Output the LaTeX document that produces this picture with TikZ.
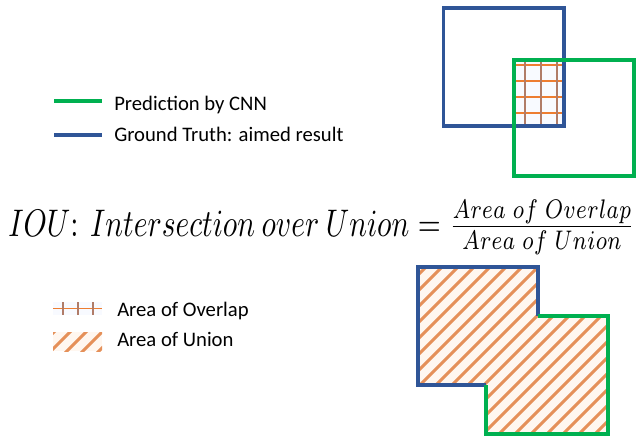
\documentclass[tikz,border=0pt]{standalone}
\usepackage{fontspec}
\usepackage{graphicx}
\setmainfont{Carlito}
\definecolor{cgreen}{RGB}{0,176,80}
\definecolor{cblue}{RGB}{47,85,151}
\definecolor{corange}{RGB}{237,125,49}
\definecolor{cbrown}{RGB}{176,124,104}
\definecolor{cpeach}{RGB}{255,247,240}
\definecolor{cpale}{RGB}{248,250,255}
\tikzset{
  boxblue/.style={draw=cblue, line width=3.3pt*0.75},
  boxgreen/.style={draw=cgreen, line width=3.3pt*0.75},
  legline/.style={line width=3.2pt*0.75},
  legtext/.style={anchor=base west, inner sep=0pt, font=\fontsize{15.5}{18}\selectfont},
  gridh/.style={draw=corange, line width=1.6pt*0.75},
  gridv/.style={draw=cbrown, line width=1.6pt*0.75},
  stripe/.style={draw=corange!80!cbrown!85!white, line width=3.0pt*0.75},
}
\begin{document}
\begin{tikzpicture}[x=0.75pt, y=-0.75pt]
\useasboundingbox (0,0) rectangle (639,437);

% ---------- top-right squares ----------
\fill[cpale] (514,60) rectangle (564,126);
\begin{scope}
  \clip (514,60) rectangle (564,126);
  \foreach \yy in {65,81,97,113} \draw[gridh] (510,\yy) -- (570,\yy);
  \foreach \xx in {525,541,557} \draw[gridv] (\xx,55) -- (\xx,130);
\end{scope}
\draw[boxblue] (443.5,8) rectangle (564,126);
\draw[boxgreen] (514,60) rectangle (634,176);

% ---------- legend 1 ----------
\coordinate (g1) at (54,101);
\coordinate (g2) at (102,101);
\coordinate (b1) at (54,135);
\coordinate (b2) at (102,135);
\draw[legline, cgreen] (g1) -- (g2);
\draw[legline, cblue] (b1) -- (b2);
\node[legtext] (tpred) at (114,110) {Prediction by CNN};
\node[legtext] (tgt) at (114,141.5) {Ground Truth: aimed result};

% ---------- formula ----------
\node[anchor=base west, inner sep=0pt] (formula) at (8,236)
  {\scalebox{1}[1.3]{\resizebox{470pt}{!}{$IOU\colon\ Intersection\ over\ Union=\frac{Area\ of\ Overlap}{Area\ of\ Union}$}}};

% ---------- legend 2 ----------
\fill[cpale] (53,302) rectangle (102,315);
\draw[gridh] (53,308.5) -- (102,308.5);
\foreach \xx in {63,78,93} \draw[gridv] (\xx,302) -- (\xx,315);
\node[legtext] (tov) at (117,316.5) {Area of Overlap};

\fill[cpeach] (53,332) rectangle (102,351);
\begin{scope}
  \clip (53,332) rectangle (102,351);
  \foreach \k in {370,386,...,470} \draw[stripe] (40,\k-40) -- (120,\k-120);
\end{scope}
\node[legtext] (tun) at (117,346.5) {Area of Union};

% ---------- union shape ----------
\fill[cpeach] (418,267) -- (538,267) -- (538,316) -- (608,316) -- (608,434) -- (486,434) -- (486,385) -- (418,385) -- cycle;
\begin{scope}
  \clip (418,267) -- (538,267) -- (538,316) -- (608,316) -- (608,434) -- (486,434) -- (486,385) -- (418,385) -- cycle;
  \foreach \k in {677,693,...,1060} \draw[stripe] (400,\k-400) -- (640,\k-640);
\end{scope}
\draw[boxblue] (486,385) -- (418,385) -- (418,267) -- (538,267) -- (538,316);
\draw[boxgreen] (538,316) -- (608,316) -- (608,434) -- (486,434) -- (486,385);
\end{tikzpicture}
\end{document}
